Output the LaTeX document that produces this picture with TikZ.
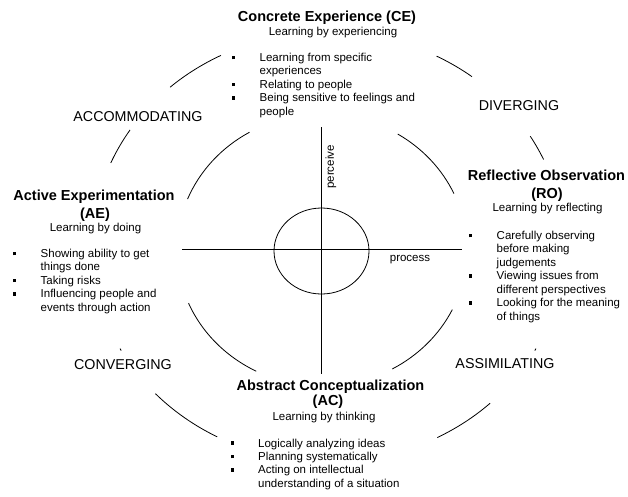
\documentclass[tikz,border=0pt]{standalone}
\usepackage{fontspec}
\setmainfont{Liberation Sans}
\newcommand\bul{\makebox[27.5pt][l]{\rule[2.2pt]{3pt}{3.6pt}}}
\newcommand\nob{\hspace*{27.5pt}}
\begin{document}
\begin{tikzpicture}[x=1pt,y=-1pt,
  arcline/.style={line width=0.8pt},
  axisline/.style={line width=0.7pt},
  ttl/.style={font=\fontsize{14.5}{17}\selectfont\bfseries, inner sep=0pt, anchor=base},
  sub/.style={font=\fontsize{11.5}{13.5}\selectfont, inner sep=0pt, anchor=base},
  lst/.style={font=\fontsize{11.5}{13.45}\selectfont, inner sep=0pt, anchor=base west},
  quad/.style={font=\fontsize{14.3}{17}\selectfont, inner sep=0pt, anchor=base}]
\useasboundingbox (0,0) rectangle (628,496);
\fill[white] (0,0) rectangle (628,496);

% centres
\coordinate (O) at (328,247);
\coordinate (I) at (322,250);
\coordinate (S) at (321.5,251);

% outer circle arcs
\foreach \a/\b in {147/157, 117/132, 52.4/62.6, 24/31, -28.8/-28.2, -62.4/-46.6, 223/242, 208.2/208.8}
  \draw[arcline] ([shift={(\a:236pt and 215pt)}]O) arc[start angle=\a, end angle=\b, x radius=236pt, y radius=215pt];

% inner circle arcs
\foreach \a/\b in {120/158, 24.5/58.5, 203/243, -61/-26}
  \draw[arcline] ([shift={(\a:145pt and 136pt)}]I) arc[start angle=\a, end angle=\b, x radius=145pt, y radius=136pt];

% small circle and axes
\draw[arcline] (S) ellipse [x radius=47.5pt, y radius=43pt];
\coordinate (vt) at (321,127);
\coordinate (vb) at (321,374);
\coordinate (hl) at (182,249);
\coordinate (hr) at (462,249);
\draw[axisline] (vt) -- (vb);
\draw[axisline] (hl) -- (hr);
\node[sub, rotate=90, anchor=center] (perc) at (331,167) {perceive};
\node[sub] (proc) at (410,261) {process};

% Concrete Experience
\node[ttl] (ceT) at (327,21) {Concrete Experience (CE)};
\node[sub] (ceS) at (333,35) {Learning by experiencing};
\node[lst] (ceL) at (232,61.5) {\begin{tabular}[t]{@{}l@{}}\bul Learning from specific\\ \nob experiences\\ \bul Relating to people\\ \bul Being sensitive to feelings and\\ \nob people\end{tabular}};

% Active Experimentation
\node[ttl] (aeT) at (94,200) {Active Experimentation};
\node[ttl] (aeT2) at (95,218) {(AE)};
\node[sub] (aeS) at (95.5,231.5) {Learning by doing};
\node[lst] (aeL) at (13,257.5) {\begin{tabular}[t]{@{}l@{}}\bul Showing ability to get\\ \nob things done\\ \bul Taking risks\\ \bul Influencing people and\\ \nob events through action\end{tabular}};

% Reflective Observation
\node[ttl] (roT) at (546.5,180) {Reflective Observation};
\node[ttl] (roT2) at (547,198) {(RO)};
\node[sub] (roS) at (547.5,211) {Learning by reflecting};
\node[lst] (roL) at (469,239.5) {\begin{tabular}[t]{@{}l@{}}\bul Carefully observing\\ \nob before making\\ \nob judgements\\ \bul Viewing issues from\\ \nob different perspectives\\ \bul Looking for the meaning\\ \nob of things\end{tabular}};

% Abstract Conceptualization
\node[ttl] (acT) at (330.5,390) {Abstract Conceptualization};
\node[ttl] (acT2) at (328,405.5) {(AC)};
\node[sub] (acS) at (324,420) {Learning by thinking};
\node[lst] (acL) at (230.5,447) {\begin{tabular}[t]{@{}l@{}}\bul Logically analyzing ideas\\ \bul Planning systematically\\ \bul Acting on intellectual\\ \nob understanding of a situation\end{tabular}};

% quadrant labels
\node[quad] (acc) at (138,121) {ACCOMMODATING};
\node[quad] (div) at (519,110) {DIVERGING};
\node[quad] (con) at (123,369) {CONVERGING};
\node[quad] (ass) at (505,368) {ASSIMILATING};
\end{tikzpicture}
\end{document}
